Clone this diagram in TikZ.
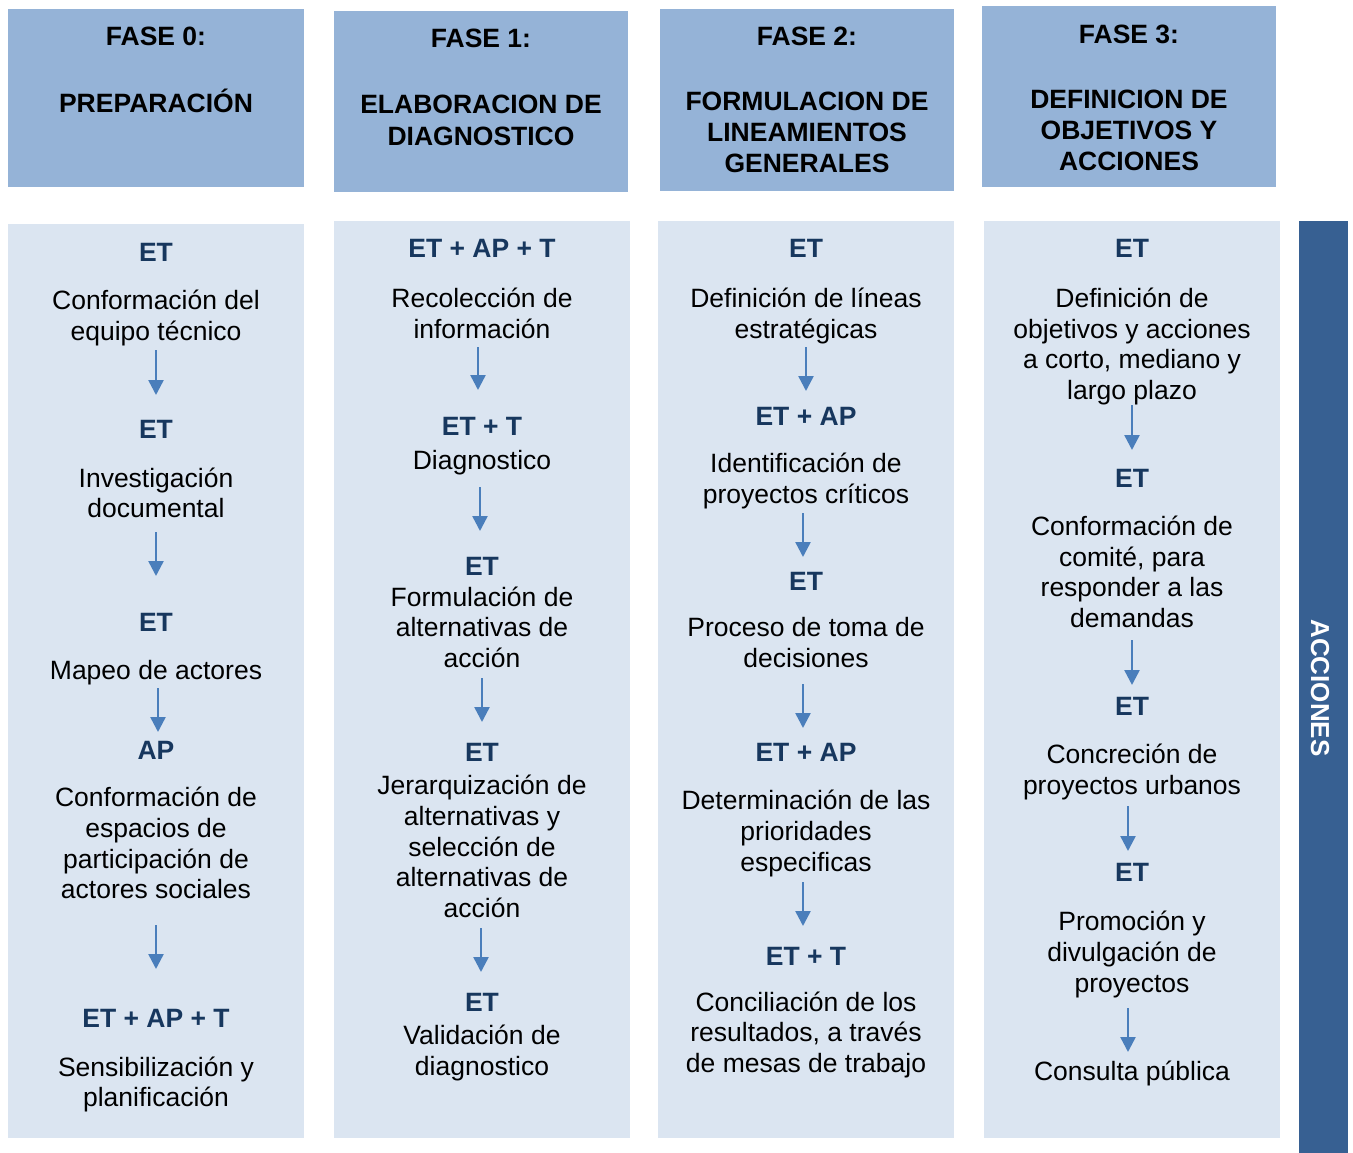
\documentclass[tikz,border=0pt]{standalone}
\usepackage{fontspec}
\setmainfont{Liberation Sans}
\usetikzlibrary{arrows.meta}
\definecolor{hdfill}{HTML}{95B3D7}
\definecolor{bxfill}{HTML}{DBE5F1}
\definecolor{barfill}{HTML}{376092}
\definecolor{labcol}{HTML}{17375E}
\definecolor{arrcol}{HTML}{4A7EBB}
\tikzset{
  hbox/.style={rectangle, fill=hdfill, draw=none, inner sep=0},
  cbox/.style={rectangle, fill=bxfill, draw=none, inner sep=0},
  txt/.style={font=\fontsize{26.5}{31}\selectfont, inner sep=0, anchor=base, text=black},
  lab/.style={txt, font=\fontsize{26.5}{31}\selectfont\bfseries, text=labcol},
  hd/.style={txt, font=\fontsize{26.5}{31}\selectfont\bfseries, text=black},
  arr/.style={draw=arrcol, line width=2.5pt, -{Triangle[width=15pt,length=15pt]}},
}
\newcommand\Tx[4]{\node[txt] (#1) at (#2,#3) {#4};}
\newcommand\Lb[4]{\node[lab] (#1) at (#2,#3) {#4};}
\newcommand\Hd[4]{\node[hd] (#1) at (#2,#3) {#4};}
\newcommand\Ar[4]{\coordinate (#1s) at (#2,#3); \coordinate (#1e) at (#2,#4); \draw[arr] (#1s) -- (#1e);}
\begin{document}
\begin{tikzpicture}[x=1pt,y=-1pt]
\useasboundingbox (0,0) rectangle (1353,1153);
% header boxes
\node[hbox, minimum width=296, minimum height=178] (h0) at (156,98) {};
\node[hbox, minimum width=294, minimum height=181] (h1) at (481,101.5) {};
\node[hbox, minimum width=294, minimum height=182] (h2) at (807,100) {};
\node[hbox, minimum width=294, minimum height=181] (h3) at (1129,96.5) {};
% content boxes
\node[cbox, minimum width=296, minimum height=914] (b0) at (156,681) {};
\node[cbox, minimum width=296, minimum height=917] (b1) at (482,679.5) {};
\node[cbox, minimum width=296, minimum height=917] (b2) at (806,679.5) {};
\node[cbox, minimum width=296, minimum height=917] (b3) at (1132,679.5) {};
% side bar
\node[rectangle, fill=barfill, inner sep=0, minimum width=49, minimum height=932] (bar) at (1323.5,687) {};
\node[font=\fontsize{26}{31}\selectfont\bfseries, text=white, rotate=-90, inner sep=0] (acc) at (1320,688) {ACCIONES};
% headers
\Hd{h0a}{156}{46}{FASE 0:}
\Hd{h0b}{156}{113}{PREPARACIÓN}
\Hd{h1a}{481}{48}{FASE 1:}
\Hd{h1b}{481}{114}{ELABORACION DE}
\Hd{h1c}{481}{146}{DIAGNOSTICO}
\Hd{h2a}{807}{46}{FASE 2:}
\Hd{h2b}{807}{111}{FORMULACION DE}
\Hd{h2c}{807}{142}{LINEAMIENTOS}
\Hd{h2d}{807}{173}{GENERALES}
\Hd{h3a}{1129}{44}{FASE 3:}
\Hd{h3b}{1129}{109}{DEFINICION DE}
\Hd{h3c}{1129}{140}{OBJETIVOS Y}
\Hd{h3d}{1129}{171}{ACCIONES}
% column 0
\Lb{l0a}{156}{261}{ET}
\Tx{t0a1}{156}{309}{Conformación del}
\Tx{t0a2}{156}{340}{equipo técnico}
\Ar{a0a}{156}{350}{395}
\Lb{l0b}{156}{438}{ET}
\Tx{t0b1}{156}{487}{Investigación}
\Tx{t0b2}{156}{517}{documental}
\Ar{a0b}{156}{532}{576}
\Lb{l0c}{156}{631}{ET}
\Tx{t0c1}{156}{679}{Mapeo de actores}
\Ar{a0c}{158}{688}{732}
\Lb{l0d}{156}{759}{AP}
\Tx{t0d1}{156}{806}{Conformación de}
\Tx{t0d2}{156}{837}{espacios de}
\Tx{t0d3}{156}{868}{participación de}
\Tx{t0d4}{156}{898}{actores sociales}
\Ar{a0d}{156}{925}{969}
\Lb{l0e}{156}{1027}{ET + AP + T}
\Tx{t0e1}{156}{1076}{Sensibilización y}
\Tx{t0e2}{156}{1106}{planificación}
% column 1
\Lb{l1a}{482}{258}{ET + AP + T}
\Tx{t1a1}{482}{307}{Recolección de}
\Tx{t1a2}{482}{338}{información}
\Ar{a1a}{478}{347}{390}
\Lb{l1b}{482}{435}{ET + T}
\Tx{t1b1}{482}{469}{Diagnostico}
\Ar{a1b}{480}{487}{531}
\Lb{l1c}{482}{575}{ET}
\Tx{t1c1}{482}{606}{Formulación de}
\Tx{t1c2}{482}{636}{alternativas de}
\Tx{t1c3}{482}{667}{acción}
\Ar{a1c}{482}{678}{722}
\Lb{l1d}{482}{761}{ET}
\Tx{t1d1}{482}{794}{Jerarquización de}
\Tx{t1d2}{482}{825}{alternativas y}
\Tx{t1d3}{482}{856}{selección de}
\Tx{t1d4}{482}{886}{alternativas de}
\Tx{t1d5}{482}{917}{acción}
\Ar{a1d}{481}{928}{972}
\Lb{l1e}{482}{1011}{ET}
\Tx{t1e1}{482}{1044}{Validación de}
\Tx{t1e2}{482}{1075}{diagnostico}
% column 2
\Lb{l2a}{806}{258}{ET}
\Tx{t2a1}{806}{307}{Definición de líneas}
\Tx{t2a2}{806}{338}{estratégicas}
\Ar{a2a}{806}{347}{391}
\Lb{l2b}{806}{425}{ET + AP}
\Tx{t2b1}{806}{472}{Identificación de}
\Tx{t2b2}{806}{503}{proyectos críticos}
\Ar{a2b}{803}{513}{557}
\Lb{l2c}{806}{590}{ET}
\Tx{t2c1}{806}{636}{Proceso de toma de}
\Tx{t2c2}{806}{667}{decisiones}
\Ar{a2c}{803}{684}{728}
\Lb{l2d}{806}{761}{ET + AP}
\Tx{t2d1}{806}{809}{Determinación de las}
\Tx{t2d2}{806}{840}{prioridades}
\Tx{t2d3}{806}{871}{especificas}
\Ar{a2d}{803}{882}{926}
\Lb{l2e}{806}{965}{ET + T}
\Tx{t2e1}{806}{1011}{Conciliación de los}
\Tx{t2e2}{806}{1041}{resultados, a través}
\Tx{t2e3}{806}{1072}{de mesas de trabajo}
% column 3
\Lb{l3a}{1132}{258}{ET}
\Tx{t3a1}{1132}{307}{Definición de}
\Tx{t3a2}{1132}{338}{objetivos y acciones}
\Tx{t3a3}{1132}{368}{a corto, mediano y}
\Tx{t3a4}{1132}{399}{largo plazo}
\Ar{a3a}{1132}{405}{450}
\Lb{l3b}{1132}{487}{ET}
\Tx{t3b1}{1132}{535}{Conformación de}
\Tx{t3b2}{1132}{566}{comité, para}
\Tx{t3b3}{1132}{596}{responder a las}
\Tx{t3b4}{1132}{627}{demandas}
\Ar{a3b}{1132}{640}{685}
\Lb{l3c}{1132}{715}{ET}
\Tx{t3c1}{1132}{763}{Concreción de}
\Tx{t3c2}{1132}{794}{proyectos urbanos}
\Ar{a3c}{1128}{806}{851}
\Lb{l3d}{1132}{881}{ET}
\Tx{t3d1}{1132}{930}{Promoción y}
\Tx{t3d2}{1132}{961}{divulgación de}
\Tx{t3d3}{1132}{992}{proyectos}
\Ar{a3d}{1128}{1008}{1052}
\Tx{t3e1}{1132}{1080}{Consulta pública}
\end{tikzpicture}
\end{document}
